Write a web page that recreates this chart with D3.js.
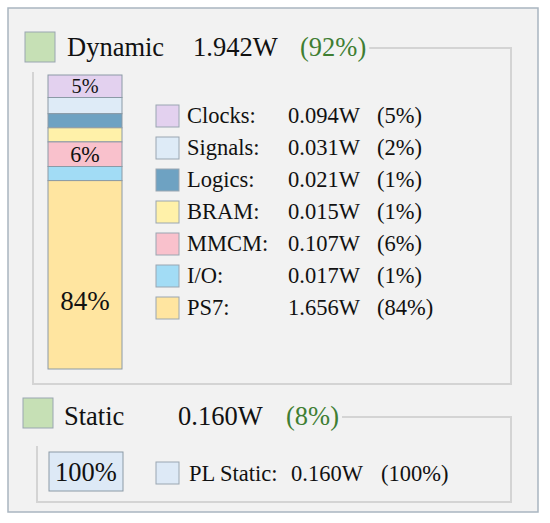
<!DOCTYPE html>
<html>
<head>
<meta charset="utf-8">
<script src="https://cdn.jsdelivr.net/npm/d3@7"></script>
<style>
  body { margin: 0; background: #fff; }
</style>
</head>
<body>
<svg width="550" height="523"></svg>
<script>
const width = 550, height = 523
const serif = '"Liberation Serif"';

// data
const groups = ['Dynamic', 'Static'];
const groupWatts = [1.942, 0.160];
const groupPct = [92, 8];

const dynNames = ['Clocks', 'Signals', 'Logics', 'BRAM', 'MMCM', 'I/O', 'PS7'];
const dynWatts = [0.094, 0.031, 0.021, 0.015, 0.107, 0.017, 1.656];
const dynPct = [5, 2, 1, 1, 6, 1, 84];

const statNames = ['PL Static'];
const statWatts = [0.160];
const statPct = [100];

const dynColors = ['#e3d1ef', '#deebf7', '#6ea2c2', '#fff1a9', '#f9c1cc', '#a2dcf5', '#ffe5a0'];
const statColor = '#dde9f6';
const groupColor = '#c6e0b5';
const green = '#3f7e33';
const boxLine = '#d4d4d4';
const sqStroke = '#9aa6b1';

const svg = d3.select('svg');

// helper for text
function label(sel, x, y, size, txt) {
    return sel.append('text')
        .attr('x', x).attr('y', y)
        .attr('fill', '#111')
        .style('font-family', serif)
        .style('font-size', size)
        .text(txt);
}

// outer panel
svg.append('rect')
    .attr('x', 8).attr('y', 8)
    .attr('width', 530).attr('height', 504)
    .attr('fill', '#f2f2f2')
    .attr('stroke', '#a9b5c0')
    .attr('stroke-width', 1.5);

const fmt = d3.format('.3f');

// group headers + their bracket boxes
const header = [
    { sq: [25, 32], nameX: 67, y: 56, wX: 193, pX: 300, box: [33, 72, 511, 384] },
    { sq: [23, 398], nameX: 64, y: 425, wX: 178, pX: 286, box: [37, 446, 511, 502] }
];

groups.forEach((g, i) => {
    const h = header[i];
    svg.append('rect')
        .attr('x', h.sq[0]).attr('y', h.sq[1])
        .attr('width', 30).attr('height', 30)
        .attr('fill', groupColor).attr('stroke', sqStroke).attr('stroke-width', 1);
    label(svg, h.nameX, h.y, '26.5px', g);
    label(svg, h.wX, h.y, '26.5px', fmt(groupWatts[i]) + 'W');
    const pt = label(svg, h.pX, h.y, '26.5px', '(' + groupPct[i] + '%)')
        .attr('fill', green);
    const endX = h.pX + pt.node().getComputedTextLength() + 3;
    const lineY = h.y - 8;
    const [x0, y0, x1, y1] = h.box;
    svg.append('path')
        .attr('d', `M${endX},${lineY} H${x1} V${y1} H${x0} V${y0}`)
        .attr('fill', 'none')
        .attr('stroke', boxLine)
        .attr('stroke-width', 2);
});

// stacked dynamic bar (each segment gets a minimum band so small parts stay visible)
const barX = 48, barW = 74, barTop = 75, barH = 294, minH = 12;
const hScale = d3.scaleLinear()
    .domain([0, d3.sum(dynPct)])
    .range([0, barH - minH * dynPct.length]);
const segH = dynPct.map(p => minH + hScale(p));
const segY = segH.map((h, i) => barTop + d3.sum(segH.slice(0, i)));

const segs = svg.append('g')
    .selectAll('g')
    .data(dynNames)
    .enter()
    .append('g');

segs.append('rect')
    .attr('x', barX)
    .attr('y', (d, i) => segY[i])
    .attr('width', barW)
    .attr('height', (d, i) => segH[i])
    .attr('fill', (d, i) => dynColors[i])
    .attr('stroke', '#8b9aa6')
    .attr('stroke-width', 1);

segs.filter((d, i) => dynPct[i] >= 5)
    .each(function (d) {
        const i = dynNames.indexOf(d);
        const fs = Math.min(27, segH[i] * 0.9);
        const drop = Math.max(0, segH[i] - 60) * 0.2; // big segment: label sits a bit low
        label(d3.select(this), barX + barW / 2, segY[i] + segH[i] / 2 + fs * 0.34 + drop, fs + 'px', dynPct[i] + '%')
            .style('text-anchor', 'middle');
    });

// dynamic legend
const rowY = d3.scalePoint().domain(dynNames).range([116, 308]);

const rows = svg.append('g')
    .selectAll('g')
    .data(dynNames)
    .enter()
    .append('g')
    .attr('transform', d => `translate(0, ${rowY(d)})`);

rows.append('rect')
    .attr('x', 156).attr('y', -11)
    .attr('width', 23).attr('height', 22)
    .attr('fill', (d, i) => dynColors[i])
    .attr('stroke', sqStroke).attr('stroke-width', 1);

rows.each(function (d, i) {
    const r = d3.select(this);
    label(r, 187, 7, '22.5px', d + ':');
    label(r, 288, 7, '22.5px', fmt(dynWatts[i]) + 'W');
    label(r, 377, 7, '22.5px', '(' + dynPct[i] + '%)');
});

// static bar + legend
const sRows = svg.append('g')
    .selectAll('g')
    .data(statNames)
    .enter()
    .append('g')
    .attr('transform', 'translate(0, 473)');

sRows.append('rect')
    .attr('x', 49).attr('y', -21)
    .attr('width', 74).attr('height', 39)
    .attr('fill', statColor).attr('stroke', '#8b9aa6').attr('stroke-width', 1);

sRows.append('rect')
    .attr('x', 156).attr('y', -11)
    .attr('width', 23).attr('height', 22)
    .attr('fill', statColor).attr('stroke', sqStroke).attr('stroke-width', 1);

sRows.each(function (d, i) {
    const r = d3.select(this);
    label(r, 86, 8, '26.5px', statPct[i] + '%').style('text-anchor', 'middle');
    label(r, 189, 8, '22.5px', d + ':');
    label(r, 291, 8, '22.5px', fmt(statWatts[i]) + 'W');
    label(r, 381, 8, '22.5px', '(' + statPct[i] + '%)');
});
</script>
</body>
</html>
